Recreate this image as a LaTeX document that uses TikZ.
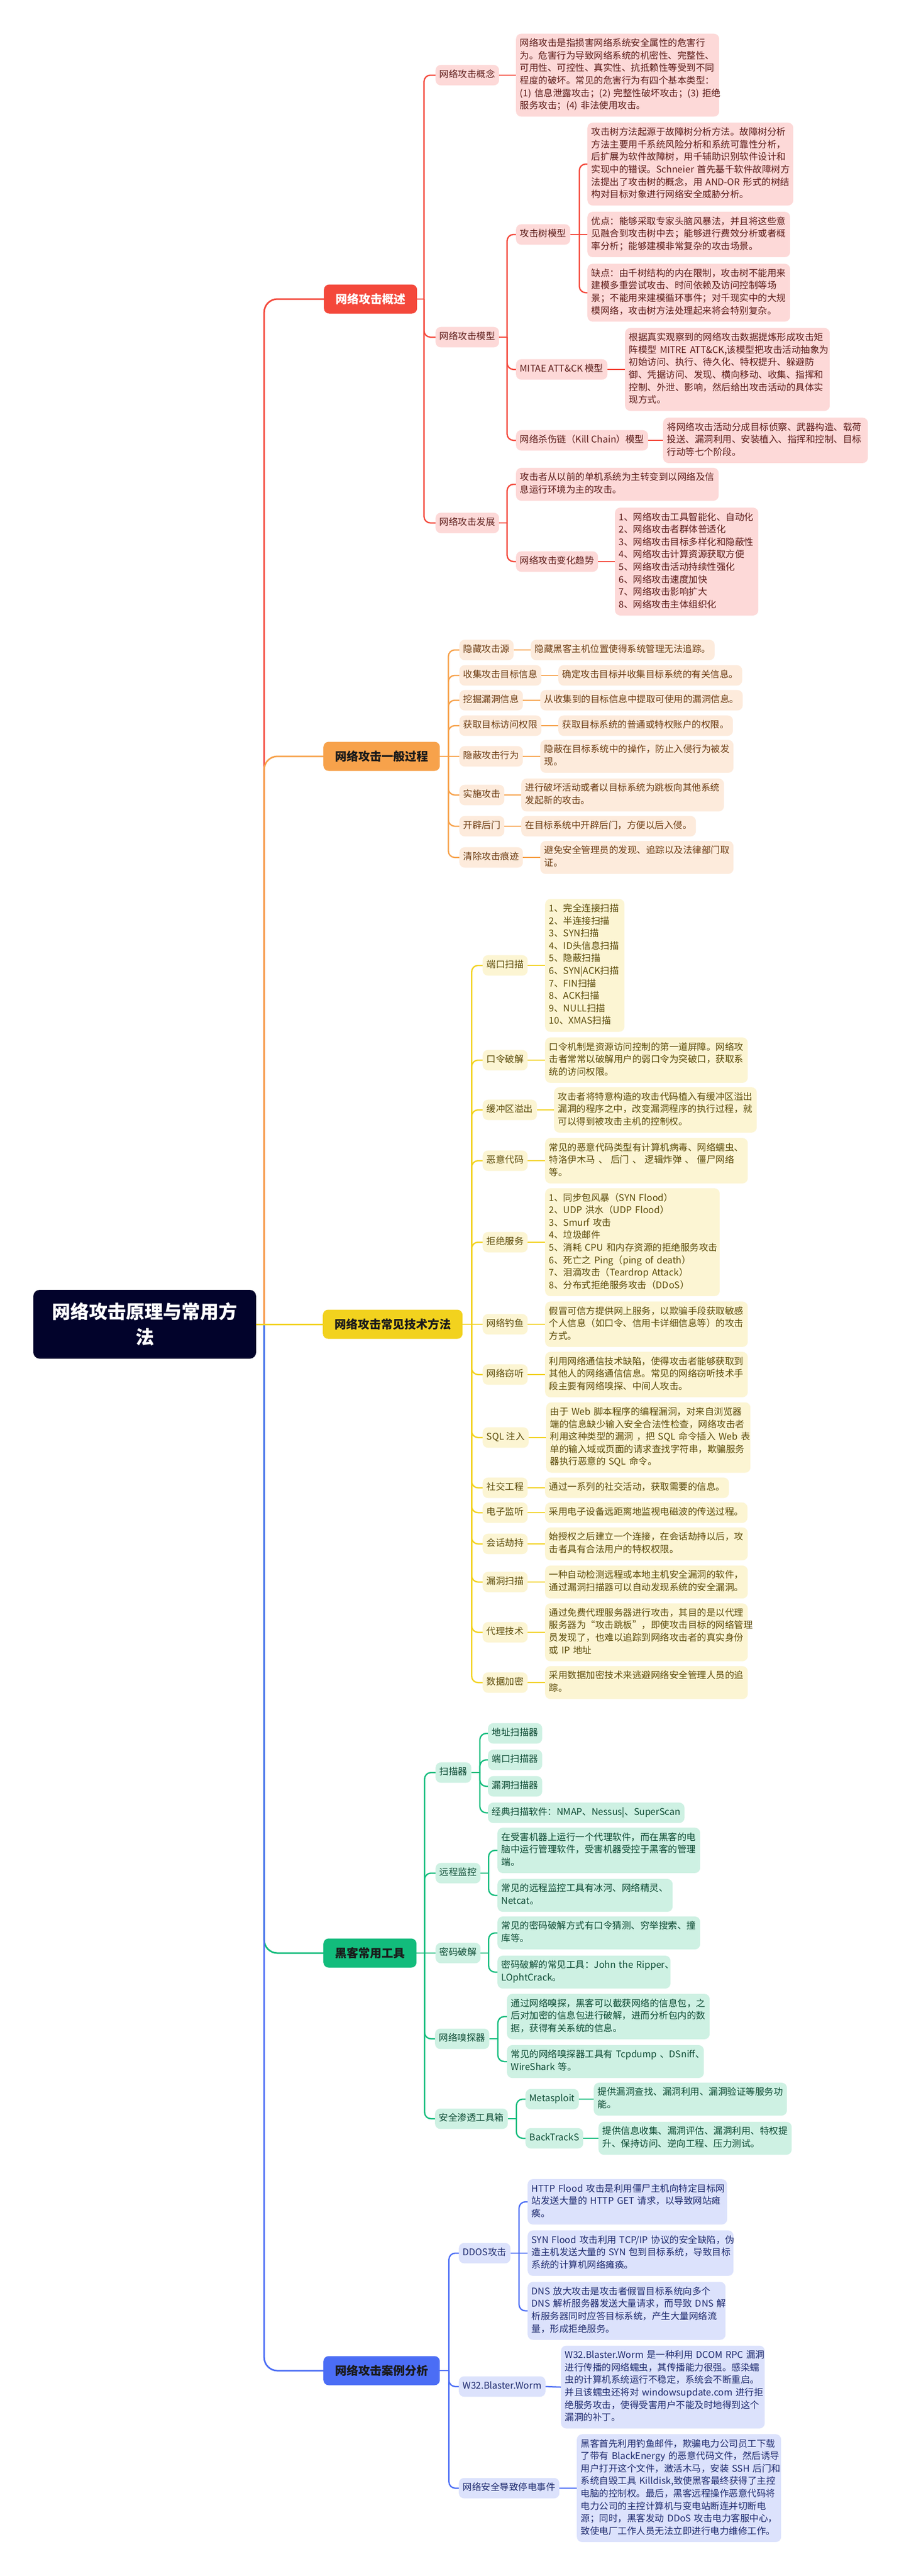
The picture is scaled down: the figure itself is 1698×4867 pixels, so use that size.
\documentclass[tikz,border=0pt]{standalone}
\usepackage{fontspec}
\setmainfont{Noto Sans CJK SC}
\setlength\parindent{0pt}
\hyphenpenalty=10000
\exhyphenpenalty=10000
\definecolor{rline}{HTML}{F4483B}
\definecolor{rfill}{HTML}{FDD9D8}
\definecolor{rtext}{HTML}{5C1B18}
\definecolor{oline}{HTML}{F7A24B}
\definecolor{ofill}{HTML}{FDEBDC}
\definecolor{otext}{HTML}{6B3A10}
\definecolor{yline}{HTML}{F2D21E}
\definecolor{yfill}{HTML}{FCF5D3}
\definecolor{ytext}{HTML}{5B4A08}
\definecolor{gline}{HTML}{12BC7C}
\definecolor{gfill}{HTML}{CEF1E3}
\definecolor{gtext}{HTML}{0C4A33}
\definecolor{bline}{HTML}{4B6DF5}
\definecolor{bfill}{HTML}{DCE2FC}
\definecolor{btext}{HTML}{1E2A6E}
\definecolor{rootc}{HTML}{02032B}
\definecolor{dark}{HTML}{1A1A1A}
\tikzset{
  mmbox/.style={rounded corners=10pt, inner xsep=7.5pt, inner ysep=7.5pt, align=left, anchor=west,
    font=\fontsize{17.5pt}{23.6pt}\selectfont,
    execute at begin node=\strut, execute at end node=\strut},
  redbox/.style={mmbox, fill=rfill, text=rtext},
  orgbox/.style={mmbox, fill=ofill, text=otext},
  ylwbox/.style={mmbox, fill=yfill, text=ytext},
  grnbox/.style={mmbox, fill=gfill, text=gtext},
  blubox/.style={mmbox, fill=bfill, text=btext},
  brbox/.style={rounded corners=10pt, inner xsep=22pt, inner ysep=0pt, minimum height=55pt, anchor=west,
    text=dark, font=\fontsize{22pt}{28pt}\selectfont\bfseries},
  redln/.style={draw=rline, line width=2.5pt},
  orgln/.style={draw=oline, line width=2.5pt},
  ylwln/.style={draw=yline, line width=2.5pt},
  grnln/.style={draw=gline, line width=2.5pt},
  bluln/.style={draw=bline, line width=2.5pt},
  spine/.style={line width=3pt, rounded corners=25pt},
}
\newcommand\mmconn[4]{\draw[#1] (#2.east) -- ++(#3,0);\draw[#1,rounded corners=12pt] (#2.east) ++(#3,0) |- (#4.west);}
\newcommand\mmlink[3]{\draw[#1] (#2.east) -- (#3.west);}
\begin{document}
\begin{tikzpicture}[x=1pt,y=-1pt]
\fill[white] (0,0) rectangle (1698,4867);
\useasboundingbox (0,0) rectangle (1698,4867);

% root and branches
\node[rounded corners=12pt, fill=rootc, text=white, minimum width=421pt, minimum height=130pt, align=center,
  font=\fontsize{35pt}{48pt}\selectfont\bfseries] (root) at (273.5,2502) {网络攻击原理与常用方\\法};
\node[brbox, fill=rline, text=white] (B1) at (612,565) {网络攻击概述};
\node[brbox, fill=oline] (B2) at (611,1429) {网络攻击一般过程};
\node[brbox, fill=yline] (B3) at (610,2502) {网络攻击常见技术方法};
\node[brbox, fill=gline] (B4) at (611,3690) {黑客常用工具};
\node[brbox, fill=bline] (B5) at (611,4479) {网络攻击案例分析};

% ---------- red ----------
\node[redbox] (r1) at (823,142) {网络攻击概念};
\node[redbox, text width=369pt] (r1d) at (975,142) {网络攻击是指损害网络系统安全属性的危害行\\为。危害行为导致网络系统的机密性、完整性、\\可用性、可控性、真实性、抗抵赖性等受到不同\\程度的破坏。常见的危害行为有四个基本类型：\\(1)~信息泄露攻击；(2)~完整性破坏攻击；(3)~拒绝\\服务攻击；(4)~非法使用攻击。};
\node[redbox] (r2) at (823,637) {网络攻击模型};
\node[redbox] (r21) at (975,443) {攻击树模型};
\node[redbox, text width=374pt] (r21a) at (1110,310) {攻击树方法起源于故障树分析方法。故障树分析\\方法主要用千系统风险分析和系统可靠性分析，\\后扩展为软件故障树，用千辅助识别软件设计和\\实现中的错误。Schneier~首先基千软件故障树方\\法提出了攻击树的概念，用~AND-OR~形式的树结\\构对目标对象进行网络安全威胁分析。};
\node[redbox, text width=368pt] (r21b) at (1110,443) {优点：能够采取专家头脑风暴法，并且将这些意\\见融合到攻击树中去；能够进行费效分析或者概\\率分析；能够建模非常复杂的攻击场景。};
\node[redbox, text width=368pt] (r21c) at (1110,553) {缺点：由千树结构的内在限制，攻击树不能用来\\建模多重尝试攻击、时间依赖及访问控制等场\\景；不能用来建模循环事件；对千现实中的大规\\模网络，攻击树方法处理起来将会特别复杂。};
\node[redbox] (r22) at (975,698) {MITAE ATT\&CK 模型};
\node[redbox, text width=372pt] (r22d) at (1181,698) {根据真实观察到的网络攻击数据提炼形成攻击矩\\阵模型~MITRE~ATT\&CK,该模型把攻击活动抽象为\\初始访问、执行、待久化、特权提升、躲避防\\御、凭据访问、发现、横向移动、收集、指挥和\\控制、外泄、影响，然后给出攻击活动的具体实\\现方式。};
\node[redbox] (r23) at (975,832) {网络杀伤链（Kill Chain）模型};
\node[redbox, text width=372pt] (r23d) at (1253,832) {将网络攻击活动分成目标侦察、武器构造、载荷\\投送、漏洞利用、安装植入、指挥和控制、目标\\行动等七个阶段。};
\node[redbox] (r3) at (823,988) {网络攻击发展};
\node[redbox, text width=368pt] (r31d) at (975,915) {攻击者从以前的单机系统为主转变到以网络及信\\息运行环境为主的攻击。};
\node[redbox] (r32) at (975,1061) {网络攻击变化趋势};
\node[redbox, text width=256pt] (r32d) at (1162,1061) {1、网络攻击工具智能化、自动化\\2、网络攻击者群体普适化\\3、网络攻击目标多样化和隐蔽性\\4、网络攻击计算资源获取方便\\5、网络攻击活动持续性强化\\6、网络攻击速度加快\\7、网络攻击影响扩大\\8、网络攻击主体组织化};

% ---------- orange ----------
\node[orgbox] (o1) at (868,1228) {隐藏攻击源};
\node[orgbox] (o1d) at (1003,1228) {隐藏黑客主机位置使得系统管理无法追踪。};
\node[orgbox] (o2) at (868,1276) {收集攻击目标信息};
\node[orgbox] (o2d) at (1055,1276) {确定攻击目标并收集目标系统的有关信息。};
\node[orgbox] (o3) at (868,1323) {挖掘漏洞信息};
\node[orgbox] (o3d) at (1021,1323) {从收集到的目标信息中提取可使用的漏洞信息。};
\node[orgbox] (o4) at (868,1371) {获取目标访问权限};
\node[orgbox] (o4d) at (1055,1371) {获取目标系统的普通或特权账户的权限。};
\node[orgbox] (o5) at (868,1429) {隐蔽攻击行为};
\node[orgbox, text width=350pt] (o5d) at (1021,1429) {隐蔽在目标系统中的操作，防止入侵行为被发\\现。};
\node[orgbox] (o6) at (868,1502) {实施攻击};
\node[orgbox, text width=368pt] (o6d) at (985,1502) {进行破坏活动或者以目标系统为跳板向其他系统\\发起新的攻击。};
\node[orgbox] (o7) at (868,1561) {开辟后门};
\node[orgbox] (o7d) at (985,1561) {在目标系统中开辟后门，方便以后入侵。};
\node[orgbox] (o8) at (868,1620) {清除攻击痕迹};
\node[orgbox, text width=350pt] (o8d) at (1021,1620) {避免安全管理员的发现、追踪以及法律部门取\\证。};

% ---------- yellow ----------
\node[ylwbox] (y1) at (912,1824) {端口扫描};
\node[ylwbox, text width=135pt] (y1d) at (1030,1824) {1、完全连接扫描\\2、半连接扫描\\3、SYN扫描\\4、ID头信息扫描\\5、隐蔽扫描\\6、SYN|ACK扫描\\7、FIN扫描\\8、ACK扫描\\9、NULL扫描\\10、XMAS扫描};
\node[ylwbox] (y2) at (912,2003) {口令破解};
\node[ylwbox, text width=368pt] (y2d) at (1030,2003) {口令机制是资源访问控制的第一道屏障。网络攻\\击者常常以破解用户的弱口令为突破口，获取系\\统的访问权限。};
\node[ylwbox] (y3) at (912,2097) {缓冲区溢出};
\node[ylwbox, text width=368pt] (y3d) at (1047,2097) {攻击者将特意构造的攻击代码植入有缓冲区溢出\\漏洞的程序之中，改变漏洞程序的执行过程，就\\可以得到被攻击主机的控制权。};
\node[ylwbox] (y4) at (912,2193) {恶意代码};
\node[ylwbox, text width=368pt] (y4d) at (1030,2193) {常见的恶意代码类型有计算机病毒、网络蠕虫、\\特洛伊木马~、~后门~、~逻辑炸弹~、~僵尸网络\\等。};
\node[ylwbox] (y5) at (912,2347) {拒绝服务};
\node[ylwbox, text width=315pt] (y5d) at (1030,2347) {1、同步包风暴（SYN~Flood）\\2、UDP~洪水（UDP~Flood）\\3、Smurf~攻击\\4、垃圾邮件\\5、消耗~CPU~和内存资源的拒绝服务攻击\\6、死亡之~Ping（ping~of~death）\\7、泪滴攻击（Teardrop~Attack）\\8、分布式拒绝服务攻击（DDoS）};
\node[ylwbox] (y6) at (912,2502) {网络钓鱼};
\node[ylwbox, text width=368pt] (y6d) at (1030,2502) {假冒可信方提供网上服务，以欺骗手段获取敏感\\个人信息（如口令、信用卡详细信息等）的攻击\\方式。};
\node[ylwbox] (y7) at (912,2597) {网络窃听};
\node[ylwbox, text width=368pt] (y7d) at (1030,2597) {利用网络通信技术缺陷，使得攻击者能够获取到\\其他人的网络通信信息。常见的网络窃听技术手\\段主要有网络嗅探、中间人攻击。};
\node[ylwbox] (y8) at (912,2716) {SQL 注入};
\node[ylwbox, text width=371pt] (y8d) at (1032,2716) {由于~Web~脚本程序的编程漏洞，对来自浏览器\\端的信息缺少输入安全合法性检查，网络攻击者\\利用这种类型的漏洞~，把~SQL~命令插入~Web~表\\单的输入域或页面的请求查找字符串，欺骗服务\\器执行恶意的~SQL~命令。};
\node[ylwbox] (y9) at (912,2811) {社交工程};
\node[ylwbox] (y9d) at (1030,2811) {通过一系列的社交活动，获取需要的信息。};
\node[ylwbox] (y10) at (912,2858) {电子监听};
\node[ylwbox] (y10d) at (1030,2858) {采用电子设备远距离地监视电磁波的传送过程。};
\node[ylwbox] (y11) at (912,2917) {会话劫持};
\node[ylwbox, text width=368pt] (y11d) at (1030,2917) {始授权之后建立一个连接，在会话劫持以后，攻\\击者具有合法用户的特权权限。};
\node[ylwbox] (y12) at (912,2989) {漏洞扫描};
\node[ylwbox, text width=368pt] (y12d) at (1030,2989) {一种自动检测远程或本地主机安全漏洞的软件，\\通过漏洞扫描器可以自动发现系统的安全漏洞。};
\node[ylwbox] (y13) at (912,3084) {代理技术};
\node[ylwbox, text width=368pt] (y13d) at (1030,3084) {通过免费代理服务器进行攻击，其目的是以代理\\服务器为“攻击跳板”，即使攻击目标的网络管理\\员发现了，也难以追踪到网络攻击者的真实身份\\或~IP~地址};
\node[ylwbox] (y14) at (912,3179) {数据加密};
\node[ylwbox, text width=368pt] (y14d) at (1030,3179) {采用数据加密技术来逃避网络安全管理人员的追\\踪。};

% ---------- green ----------
\node[grnbox] (g1) at (823,3349) {扫描器};
\node[grnbox] (g11) at (922,3275) {地址扫描器};
\node[grnbox] (g12) at (922,3325) {端口扫描器};
\node[grnbox] (g13) at (922,3375) {漏洞扫描器};
\node[grnbox] (g14) at (922,3425) {经典扫描软件：NMAP、Nessus|、SuperScan};
\node[grnbox] (g2) at (823,3539) {远程监控};
\node[grnbox, text width=368pt] (g21) at (940,3496) {在受害机器上运行一个代理软件，而在黑客的电\\脑中运行管理软件，受害机器受控于黑客的管理\\端。};
\node[grnbox, text width=316pt] (g22) at (940,3581) {常见的远程监控工具有冰河、网络精灵、\\Netcat。};
\node[grnbox] (g3) at (823,3690) {密码破解};
\node[grnbox, text width=368pt] (g31) at (940,3652) {常见的密码破解方式有口令猜测、穷举搜索、撞\\库等。};
\node[grnbox, text width=312pt] (g32) at (940,3726) {密码破解的常见工具：John~the~Ripper、\\LOphtCrack。};
\node[grnbox] (g4) at (822,3852) {网络嗅探器};
\node[grnbox, text width=368pt] (g41) at (958,3810) {通过网络嗅探，黑客可以截获网络的信息包，之\\后对加密的信息包进行破解，进而分析包内的数\\据，获得有关系统的信息。};
\node[grnbox, text width=357pt] (g42) at (958,3895) {常见的网络嗅探器工具有~Tcpdump~、DSniff、\\WireShark~等。};
\node[grnbox] (g5) at (822,4003) {安全渗透工具箱};
\node[grnbox] (g51) at (993,3966) {Metasploit};
\node[grnbox, text width=350pt] (g51d) at (1122,3966) {提供漏洞查找、漏洞利用、漏洞验证等服务功\\能。};
\node[grnbox] (g52) at (993,4040) {BackTrackS};
\node[grnbox, text width=350pt] (g52d) at (1131,4040) {提供信息收集、漏洞评估、漏洞利用、特权提\\升、保持访问、逆向工程、压力测试。};

% ---------- blue ----------
\node[blubox] (b1) at (867,4257) {DDOS攻击};
\node[blubox, text width=362pt] (b11) at (997,4160) {HTTP~Flood~攻击是利用僵尸主机向特定目标网\\站发送大量的~HTTP~GET~请求，以导致网站瘫\\痪。};
\node[blubox, text width=374pt] (b12) at (997,4257) {SYN~Flood~攻击利用~TCP/IP~协议的安全缺陷，伪\\造主机发送大量的~SYN~包到目标系统，导致目标\\系统的计算机网络瘫痪。};
\node[blubox, text width=359pt] (b13) at (997,4366) {DNS~放大攻击是攻击者假冒目标系统向多个\\DNS~解析服务器发送大量请求，而导致~DNS~解\\析服务器同时应答目标系统，产生大量网络流\\量，形成拒绝服务。};
\node[blubox] (b2) at (867,4509) {W32.Blaster.Worm};
\node[blubox, text width=370pt] (b2d) at (1060,4510) {W32.Blaster.Worm~是一种利用~DCOM~RPC~漏洞\\进行传播的网络蠕虫，其传播能力很强。感染蠕\\虫的计算机系统运行不稳定，系统会不断重启。\\并且该蠕虫还将对~windowsupdate.com~进行拒\\绝服务攻击，使得受害用户不能及时地得到这个\\漏洞的补丁。};
\node[blubox] (b3) at (867,4701) {网络安全导致停电事件};
\node[blubox, text width=371pt] (b3d) at (1090,4701) {黑客首先利用钓鱼邮件，欺骗电力公司员工下载\\了带有~BlackEnergy~的恶意代码文件，然后诱导\\用户打开这个文件，激活木马，安装~SSH~后门和\\系统自毁工具~Killdisk,致使黑客最终获得了主控\\电脑的控制权。最后，黑客远程操作恶意代码将\\电力公司的主控计算机与变电站断连并切断电\\源；同时，黑客发动~DDoS~攻击电力客服中心，\\致使电厂工作人员无法立即进行电力维修工作。};

% ---------- spine ----------
\draw[redln, spine] (root.east) ++(15,0) |- (B1.west);
\draw[orgln, spine] (root.east) ++(15,0) |- (B2.west);
\draw[grnln, spine] (root.east) ++(15,0) |- (B4.west);
\draw[bluln, spine] (root.east) ++(15,0) |- (B5.west);
\draw[ylwln, line width=3pt] (root.east) -- (B3.west);

% ---------- red connectors ----------
\mmconn{redln}{B1}{13}{r1}
\mmconn{redln}{B1}{13}{r2}
\mmconn{redln}{B1}{13}{r3}
\mmlink{redln}{r1}{r1d}
\mmconn{redln}{r2}{15}{r21}
\mmconn{redln}{r2}{15}{r22}
\mmconn{redln}{r2}{15}{r23}
\mmconn{redln}{r21}{17}{r21a}
\mmlink{redln}{r21}{r21b}
\mmconn{redln}{r21}{17}{r21c}
\mmlink{redln}{r22}{r22d}
\mmlink{redln}{r23}{r23d}
\mmconn{redln}{r3}{15}{r31d}
\mmconn{redln}{r3}{15}{r32}
\mmlink{redln}{r32}{r32d}

% ---------- orange connectors ----------
\foreach \k in {o1,o2,o3,o4,o6,o7,o8} {\mmconn{orgln}{B2}{16}{\k}}
\mmlink{orgln}{B2}{o5}
\foreach \k in {o1,o2,o3,o4,o5,o6,o7,o8} {\mmlink{orgln}{\k}{\k d}}

% ---------- yellow connectors ----------
\foreach \k in {y1,y2,y3,y4,y5,y7,y8,y9,y10,y11,y12,y13,y14} {\mmconn{ylwln}{B3}{17}{\k}}
\mmlink{ylwln}{B3}{y6}
\foreach \k in {y1,y2,y3,y4,y5,y6,y7,y8,y9,y10,y11,y12,y13,y14} {\mmlink{ylwln}{\k}{\k d}}

% ---------- green connectors ----------
\foreach \k in {g1,g2,g4,g5} {\mmconn{grnln}{B4}{15}{\k}}
\mmlink{grnln}{B4}{g3}
\foreach \k in {g11,g12,g13,g14} {\mmconn{grnln}{g1}{16}{\k}}
\mmconn{grnln}{g2}{15}{g21}
\mmconn{grnln}{g2}{15}{g22}
\mmconn{grnln}{g3}{15}{g31}
\mmconn{grnln}{g3}{15}{g32}
\mmconn{grnln}{g4}{16}{g41}
\mmconn{grnln}{g4}{16}{g42}
\mmconn{grnln}{g5}{16}{g51}
\mmconn{grnln}{g5}{16}{g52}
\mmlink{grnln}{g51}{g51d}
\mmlink{grnln}{g52}{g52d}

% ---------- blue connectors ----------
\foreach \k in {b1,b2,b3} {\mmconn{bluln}{B5}{17}{\k}}
\mmconn{bluln}{b1}{16}{b11}
\mmlink{bluln}{b1}{b12}
\mmconn{bluln}{b1}{16}{b13}
\mmlink{bluln}{b2}{b2d}
\mmlink{bluln}{b3}{b3d}
\end{tikzpicture}
\end{document}
